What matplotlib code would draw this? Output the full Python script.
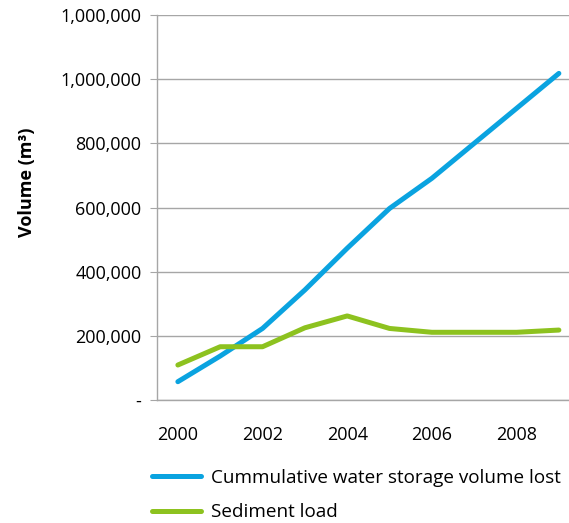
import matplotlib
matplotlib.use("Agg")
import matplotlib.pyplot as plt
from matplotlib.ticker import FixedLocator, FixedFormatter

plt.rcParams['font.family'] = ['Open Sans', 'DejaVu Sans']

# data
years = [2000, 2001, 2002, 2003, 2004, 2005, 2006, 2007, 2008, 2009]
water_lost = [57000, 137000, 223000, 343000, 473000, 597000, 691000, 800000, 909000, 1018000]
sediment = [109000, 166000, 166000, 225000, 262000, 223000, 211000, 211000, 211000, 218000]

y_ticks = [0, 200000, 400000, 600000, 800000, 1000000, 1200000]
y_tick_labels = ["-", "200,000", "400,000", "600,000", "800,000", "1,000,000", "1,000,000"]
x_tick_labels = ["2000", "2002", "2004", "2006", "2008"]

BLUE = "#0AA3E0"
GREEN = "#8DC21F"
GRID = "#A6A6A6"

fig = plt.figure(figsize=(5.69, 5.23), dpi=100)
ax = fig.add_axes([0.2754, 0.2352, 0.744, 0.7361])

pos = list(range(len(years)))
ax.plot(pos, water_lost, color=BLUE, lw=3.6, solid_capstyle='round',
        label="Cummulative water storage volume lost")
ax.plot(pos, sediment, color=GREEN, lw=3.6, solid_capstyle='round',
        label="Sediment load")

ax.set_xlim(-0.5, len(years) - 0.5)
ax.set_ylim(0, 1200000)

ax.yaxis.set_major_locator(FixedLocator(y_ticks))
ax.yaxis.set_major_formatter(FixedFormatter(y_tick_labels))
ax.set_xticks(pos[::2])
ax.set_xticklabels(x_tick_labels)

ax.grid(axis='y', color=GRID, lw=1)
ax.set_axisbelow(True)
for side in ['top', 'right']:
    ax.spines[side].set_visible(False)
for side in ['left', 'bottom']:
    ax.spines[side].set_color(GRID)
    ax.spines[side].set_linewidth(1)

ax.tick_params(axis='y', length=5, color=GRID, labelsize=13, pad=6)
ax.tick_params(axis='x', length=0, labelsize=13, pad=19)

ax.set_ylabel("Volume (m³)", fontsize=13, fontweight='bold')
ax.yaxis.set_label_coords(-0.285, 0.566)

fig.legend(loc='upper left', bbox_to_anchor=(0.267, 0.104), frameon=False,
           fontsize=13.6, handlelength=2.6, handletextpad=0.55, labelspacing=0.88,
           borderaxespad=0, borderpad=0)

fig.savefig("out.png", dpi=100)
